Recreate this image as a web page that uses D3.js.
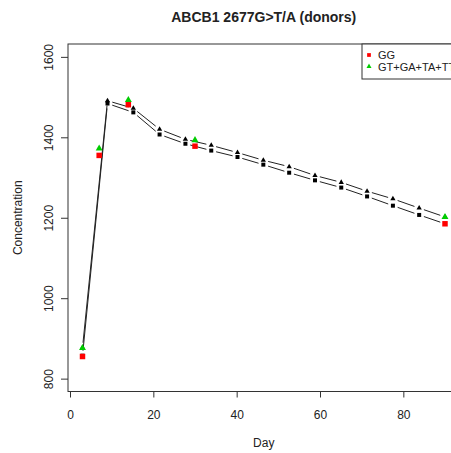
<!DOCTYPE html>
<html>
<head>
<meta charset="utf-8">
<script src="https://cdn.jsdelivr.net/npm/d3@7"></script>
<style>
  body { margin: 0; background: #fff; }
  text { font-family: "Liberation Sans", Arial, sans-serif; fill: #222; }
</style>
</head>
<body>
<div id="chart"></div>
<script>
// observed means per genotype group
const days = [3, 7, 14, 30, 90];
const ggValues = [855, 1355, 1481, 1378, 1185];
const otherValues = [876, 1372, 1493, 1393, 1202];

// fitted curves (black, type "b")
const fitDays = [3, 9, 15.2, 21.5, 27.7, 33.9, 40.2, 46.4, 52.6, 58.8, 65.1, 71.3, 77.5, 83.8, 90];
const fitGG = [857, 1484, 1462, 1407, 1384, 1367, 1351, 1332, 1312, 1293, 1275, 1253, 1230, 1207, 1185];
const fitOther = [877, 1491, 1472, 1420, 1395, 1380, 1362, 1343, 1327, 1305, 1288, 1266, 1247, 1224, 1202];

const xTicks = [0, 20, 40, 60, 80];
const yTicks = [800, 1000, 1200, 1400, 1600];
const legendLabels = ["GG", "GT+GA+TA+TT"];
const legendColors = ["#f00", "#0c0"];

const W = 451, H = 453;
const box = {left: 68, right: 459.5, top: 44, bottom: 391.5};

const svg = d3.select("#chart").append("svg")
  .attr("width", W).attr("height", H);

// R style 4% extension of the limits
const xlim = [3, 90], ylim = [800, 1600];
const xr = (xlim[1] - xlim[0]) * 0.04, yr = (ylim[1] - ylim[0]) * 0.04;
const x = d3.scaleLinear().domain([xlim[0] - xr, xlim[1] + xr]).range([box.left, box.right]);
const y = d3.scaleLinear().domain([ylim[0] - yr, ylim[1] + yr]).range([box.bottom, box.top]);

// title
svg.append("text")
  .attr("x", (box.left + box.right) / 2).attr("y", 22)
  .attr("text-anchor", "middle")
  .style("font-size", "14px").style("font-weight", "bold")
  .text("ABCB1 2677G>T/A (donors)");

// axes
const xAxis = svg.append("g")
  .attr("transform", "translate(0," + box.bottom + ")")
  .call(d3.axisBottom(x).tickValues(xTicks).tickSize(6).tickFormat(d3.format("d")));
xAxis.select(".domain").remove();
xAxis.selectAll("line").attr("stroke", "#333");
xAxis.selectAll("text")
  .attr("y", 27.5).attr("dy", null)
  .style("font-size", "12px").style("font-family", "Liberation Sans, Arial, sans-serif")
  .attr("fill", "#222");

const yAxis = svg.append("g")
  .attr("transform", "translate(" + box.left + ",0)")
  .call(d3.axisLeft(y).tickValues(yTicks).tickSize(7).tickFormat(d3.format("d")));
yAxis.select(".domain").remove();
yAxis.selectAll("line").attr("stroke", "#333");
yAxis.selectAll("text")
  .attr("x", 0).attr("y", -15).attr("dy", null)
  .attr("transform", "rotate(-90)")
  .attr("text-anchor", "middle")
  .style("font-size", "12px").style("font-family", "Liberation Sans, Arial, sans-serif")
  .attr("fill", "#222");

// box
svg.append("rect")
  .attr("x", box.left).attr("y", box.top)
  .attr("width", box.right - box.left).attr("height", box.bottom - box.top)
  .attr("fill", "none").attr("stroke", "#333").attr("stroke-width", 1);

// axis titles
svg.append("text")
  .attr("x", (box.left + box.right) / 2).attr("y", 447)
  .attr("text-anchor", "middle").style("font-size", "12px")
  .text("Day");
svg.append("text")
  .attr("transform", "translate(22," + ((box.top + box.bottom) / 2) + ") rotate(-90)")
  .attr("text-anchor", "middle").style("font-size", "12px")
  .text("Concentration");

// fitted lines with gaps around the points
const gap = 5;
function drawFit(vals) {
  const pts = fitDays.map((d, i) => [x(d), y(vals[i])]);
  for (let i = 0; i < pts.length - 1; i++) {
    const [x0, y0] = pts[i], [x1, y1] = pts[i + 1];
    const len = Math.hypot(x1 - x0, y1 - y0);
    if (len <= 2 * gap) continue;
    const ux = (x1 - x0) / len, uy = (y1 - y0) / len;
    svg.append("line")
      .attr("x1", x0 + ux * gap).attr("y1", y0 + uy * gap)
      .attr("x2", x1 - ux * gap).attr("y2", y1 - uy * gap)
      .attr("stroke", "#222").attr("stroke-width", 1);
  }
}
drawFit(fitGG);
drawFit(fitOther);

const sq = d3.symbol().type(d3.symbolSquare);
const tri = d3.symbol().type(d3.symbolTriangle);

svg.append("g").selectAll("path")
  .data(fitDays.map((d, i) => [d, fitGG[i]]))
  .join("path")
  .attr("transform", d => "translate(" + x(d[0]) + "," + y(d[1]) + ")")
  .attr("d", sq.size(16)()).attr("fill", "#000");
svg.append("g").selectAll("path")
  .data(fitDays.map((d, i) => [d, fitOther[i]]))
  .join("path")
  .attr("transform", d => "translate(" + x(d[0]) + "," + y(d[1]) + ")")
  .attr("d", tri.size(12)()).attr("fill", "#000");

// observed points
svg.append("g").selectAll("path")
  .data(days.map((d, i) => [d, ggValues[i]]))
  .join("path")
  .attr("transform", d => "translate(" + x(d[0]) + "," + y(d[1]) + ")")
  .attr("d", sq.size(30)()).attr("fill", legendColors[0]);
svg.append("g").selectAll("path")
  .data(days.map((d, i) => [d, otherValues[i]]))
  .join("path")
  .attr("transform", d => "translate(" + x(d[0]) + "," + y(d[1]) + ")")
  .attr("d", tri.size(21)()).attr("fill", legendColors[1]);

// legend
const lg = svg.append("g");
lg.append("rect")
  .attr("x", 362).attr("y", box.top).attr("width", 120).attr("height", 35)
  .attr("fill", "#fff").attr("stroke", "#333");
legendLabels.forEach((lab, i) => {
  const ly = 55 + i * 11.5;
  lg.append("path")
    .attr("transform", "translate(369," + ly + ")")
    .attr("d", (i === 0 ? sq.size(14) : tri.size(11))())
    .attr("fill", legendColors[i]);
  lg.append("text")
    .attr("x", 378).attr("y", ly + 4)
    .style("font-size", "11px")
    .text(lab);
});
</script>
</body>
</html>
